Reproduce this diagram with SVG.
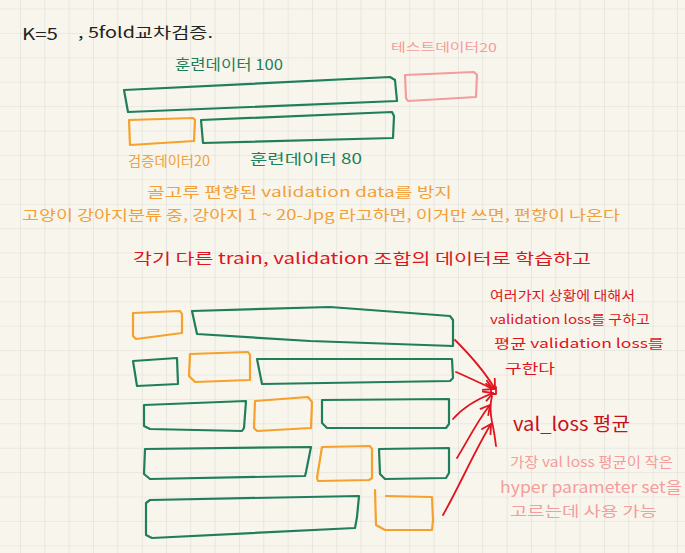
<svg xmlns="http://www.w3.org/2000/svg" width="685" height="553" viewBox="0 0 685 553">
<defs>
<pattern id="grid" x="20" y="8.5" width="24.33" height="24.4" patternUnits="userSpaceOnUse">
<path d="M0 0V24.4M0 0H24.33" fill="none" stroke="#dcdcd8" stroke-width="1.2"/>
</pattern>
<marker id="ah" viewBox="0 0 12 12" refX="10" refY="6" markerWidth="12" markerHeight="12" markerUnits="userSpaceOnUse" orient="auto">
<path d="M1 1L10 6L1 11" fill="none" stroke="#e0141e" stroke-width="1.8" stroke-linecap="round" stroke-linejoin="round"/>
</marker>
</defs>
<style>
text{font-family:"Noto Sans CJK KR","Noto Sans",sans-serif;}
.g{fill:none;stroke:#1f7e5b;stroke-width:2.2;stroke-linejoin:round;stroke-linecap:round;}
.o{fill:none;stroke:#f6a12c;stroke-width:2.2;stroke-linejoin:round;stroke-linecap:round;}
.p{fill:none;stroke:#f59c9c;stroke-width:2.2;stroke-linejoin:round;stroke-linecap:round;}
.r{fill:none;stroke:#e0141e;stroke-width:1.8;stroke-linecap:round;stroke-linejoin:round;}
.tg{fill:#1f7e5b;}
.to{fill:#f2a03a;}
.tp{fill:#f59c9c;}
.tr{fill:#e0141e;}
</style>
<rect width="685" height="553" fill="#f8f6ec"/>
<rect width="685" height="553" fill="url(#grid)"/>

<g id="title">
<text x="22" y="40" font-size="16" fill="#222" textLength="36" lengthAdjust="spacingAndGlyphs">K=5</text>
<text x="78" y="38" font-size="15" fill="#222" textLength="135" lengthAdjust="spacingAndGlyphs">, 5fold교차검증.</text>
</g>

<g id="train100">
<path class="g" d="M124 90L390 77L395 80L397 101L128 112Z"/>
<text class="tg" x="175" y="70" font-size="15" textLength="108" lengthAdjust="spacingAndGlyphs">훈련데이터 100</text>
</g>
<g id="test20">
<path class="p" d="M405 75L474 72L477 75L476 97L408 101L406 98Z"/>
<text class="tp" x="391" y="52" font-size="12" textLength="106" lengthAdjust="spacingAndGlyphs">테스트데이터20</text>
</g>
<g id="val20">
<path class="o" d="M129 120L193 118L195 120L194 141L130 145Z"/>
<text class="to" x="128" y="166" font-size="14" textLength="82" lengthAdjust="spacingAndGlyphs">검증데이터20</text>
</g>
<g id="train80">
<path class="g" d="M201 120L392 112L394 116L393 138L203 143Z"/>
<text class="tg" x="250" y="164" font-size="14" textLength="112" lengthAdjust="spacingAndGlyphs">훈련데이터 80</text>
</g>

<g id="notes">
<text class="to" x="147" y="197" font-size="14" textLength="305" lengthAdjust="spacingAndGlyphs">골고루 편향된 validation data를 방지</text>
<text class="to" x="22" y="220" font-size="14" textLength="598" lengthAdjust="spacingAndGlyphs">고양이 강아지분류 중, 강아지 1 ~ 20-Jpg 라고하면, 이거만 쓰면, 편향이 나온다</text>
<text class="tr" x="133" y="264" font-size="15" textLength="458" lengthAdjust="spacingAndGlyphs">각기 다른 train, validation 조합의 데이터로 학습하고</text>
</g>

<g id="fold1">
<path class="o" d="M133 313L180 311L182 314L182 333L136 339L133 336Z"/>
<path class="g" d="M192 311L330 307L450 316L453 320L453 346L310 341L197 334Z"/>
</g>
<g id="fold2">
<path class="g" d="M133 361L177 358L178 384L137 386Z"/>
<path class="o" d="M190 354L248 352L250 355L250 380L195 382L189 376Z"/>
<path class="g" d="M257 359L452 359L453 378L450 381L262 384Z"/>
</g>
<g id="fold3">
<path class="g" d="M144 405L246 401L244 428L242 431L150 429L144 426Z"/>
<path class="o" d="M255 401L308 397L312 402L311 428L257 431L254 428Z"/>
<path class="g" d="M322 400L449 399L449 424L446 428L327 428L322 423Z"/>
</g>
<g id="fold4">
<path class="g" d="M145 449L311 447L306 472L305 476L150 479L144 474Z"/>
<path class="o" d="M322 447L370 446L372 449L372 478L369 480L318 481L317 478Z"/>
<path class="g" d="M379 449L449 448L449 473L446 478L385 479L380 474Z"/>
</g>
<g id="fold5">
<path class="g" d="M146 503L150 500L359 496L357 517L355 528L152 538L146 535Z"/>
<path class="o" d="M386 496L432 497L433 520L432 530L385 530L376 525L375 490"/>
</g>

<g id="connectors">
<path class="r" d="M455 340C470 355 485 372 495 389" marker-end="url(#ah)"/>
<path class="r" d="M456 372C470 378 482 384 493 389" marker-end="url(#ah)"/>
<path class="r" d="M453 419C465 405 480 398 493 393" marker-end="url(#ah)"/>
<path class="r" d="M457 458C468 440 478 420 490 405" marker-end="url(#ah)"/>
<path class="r" d="M443 515C460 485 475 450 491 424" marker-end="url(#ah)"/>
<path class="r" d="M496 387L496 394L491 394L491 389Z"/>
<path class="r" d="M492 396C490 404 490 412 492 422C494 430 495 438 496 446"/>
</g>

<g id="summary">
<text class="tr" x="490" y="300" font-size="13" textLength="145" lengthAdjust="spacingAndGlyphs">여러가지 상황에 대해서</text>
<text class="tr" x="490" y="324" font-size="13" textLength="160" lengthAdjust="spacingAndGlyphs">validation loss를 구하고</text>
<text class="tr" x="494" y="348" font-size="13" textLength="170" lengthAdjust="spacingAndGlyphs">평균 validation loss를</text>
<text class="tr" x="505" y="373" font-size="13" textLength="50" lengthAdjust="spacingAndGlyphs">구한다</text>
</g>
<g id="valloss">
<text x="513" y="431" font-size="19" fill="#c8101a" textLength="117" lengthAdjust="spacingAndGlyphs">val_loss 평균</text>
</g>
<g id="conclusion">
<text class="tp" x="510" y="467" font-size="14" textLength="163" lengthAdjust="spacingAndGlyphs">가장 val loss 평균이 작은</text>
<text class="tp" x="500" y="493" font-size="16" textLength="182" lengthAdjust="spacingAndGlyphs">hyper parameter set을</text>
<text class="tp" x="510" y="516" font-size="14" textLength="147" lengthAdjust="spacingAndGlyphs">고르는데 사용 가능</text>
</g>
</svg>
